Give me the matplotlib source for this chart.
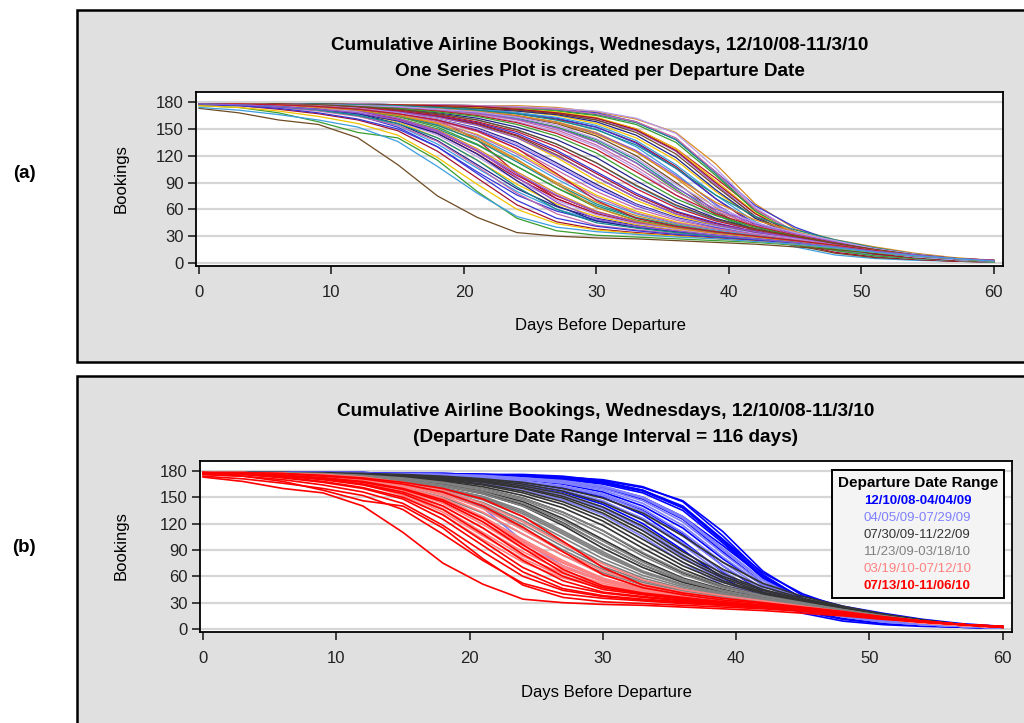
import numpy as np
import matplotlib
matplotlib.use("Agg")
import matplotlib.pyplot as plt
from matplotlib.patches import Rectangle
from matplotlib.lines import Line2D

plt.rcParams['font.family'] = ['Liberation Sans', 'DejaVu Sans']

# days before departure (sampled every 3 days)
days = [0, 3, 6, 9, 12, 15, 18, 21, 24, 27, 30, 33, 36, 39, 42, 45, 48, 51, 54, 57, 60]

# cumulative bookings per departure date, grouped by departure date range
range1 = [  # 12/10/08-04/04/09
    [178, 178, 178, 178, 178, 177, 177, 176, 176, 174, 169, 161, 146, 111, 66, 38, 26, 18, 11, 6, 3],
    [178, 178, 178, 178, 178, 177, 176, 175, 174, 172, 168, 158, 138, 102, 64, 40, 24, 14, 8, 4, 2],
    [178, 178, 178, 178, 177, 177, 176, 174, 172, 168, 162, 150, 128, 95, 60, 35, 20, 12, 7, 4, 2],
    [178, 178, 178, 178, 178, 177, 177, 176, 174, 171, 166, 157, 138, 100, 58, 32, 20, 12, 8, 4, 2],
    [178, 178, 178, 177, 177, 176, 175, 173, 170, 165, 156, 140, 115, 80, 50, 30, 18, 10, 6, 3, 1],
    [178, 178, 178, 178, 177, 176, 175, 174, 171, 167, 160, 148, 125, 88, 52, 28, 14, 8, 5, 3, 1],
    [178, 178, 178, 177, 176, 175, 173, 171, 167, 160, 150, 130, 100, 65, 35, 18, 9, 5, 3, 2, 1],
    [178, 178, 178, 178, 178, 177, 177, 176, 175, 173, 170, 162, 145, 106, 62, 34, 20, 12, 7, 4, 2],
    [178, 178, 177, 177, 176, 174, 172, 169, 164, 156, 142, 120, 90, 58, 35, 20, 11, 6, 4, 2, 1],
    [178, 178, 178, 178, 177, 177, 176, 175, 173, 170, 165, 155, 135, 98, 58, 32, 18, 10, 6, 3, 1],
    [178, 178, 178, 177, 176, 175, 174, 171, 167, 161, 152, 135, 108, 72, 42, 22, 12, 7, 4, 2, 1],
    [178, 178, 178, 178, 178, 177, 177, 176, 174, 172, 167, 158, 140, 102, 60, 34, 21, 13, 8, 4, 2],
]
range2 = [  # 04/05/09-07/29/09
    [178, 178, 178, 178, 177, 176, 175, 173, 170, 166, 158, 143, 118, 82, 50, 30, 18, 11, 6, 3, 2],
    [178, 178, 178, 177, 176, 175, 173, 170, 165, 158, 146, 125, 95, 62, 38, 24, 15, 9, 5, 3, 1],
    [178, 178, 178, 177, 177, 176, 174, 172, 168, 162, 152, 134, 106, 72, 44, 27, 16, 9, 5, 3, 2],
    [178, 178, 177, 176, 174, 170, 160, 138, 100, 72, 55, 44, 36, 30, 25, 20, 15, 10, 6, 3, 1],
    [178, 178, 178, 177, 176, 174, 172, 168, 162, 152, 138, 115, 85, 56, 36, 23, 14, 8, 5, 3, 1],
    [178, 178, 178, 178, 177, 177, 176, 174, 172, 169, 163, 150, 128, 92, 56, 33, 19, 11, 6, 3, 2],
    [178, 178, 177, 177, 176, 174, 172, 169, 164, 157, 145, 126, 98, 66, 40, 25, 15, 9, 5, 3, 1],
    [178, 178, 178, 177, 177, 176, 174, 172, 168, 163, 154, 137, 110, 76, 46, 28, 16, 9, 5, 3, 2],
    [178, 178, 177, 176, 175, 173, 170, 166, 158, 147, 130, 105, 76, 50, 33, 22, 14, 8, 5, 3, 1],
    [178, 178, 178, 178, 177, 176, 175, 173, 171, 167, 160, 146, 122, 86, 52, 31, 18, 10, 6, 3, 2],
    [178, 178, 177, 177, 176, 174, 171, 167, 161, 152, 136, 112, 82, 54, 35, 23, 14, 8, 5, 3, 1],
    [178, 178, 178, 178, 177, 177, 176, 175, 172, 168, 162, 149, 126, 90, 55, 32, 18, 10, 6, 3, 2],
]
range3 = [  # 07/30/09-11/22/09
    [178, 178, 178, 177, 176, 174, 171, 167, 160, 149, 132, 108, 80, 58, 42, 32, 24, 16, 10, 5, 2],
    [178, 178, 177, 176, 175, 172, 168, 162, 152, 138, 118, 92, 68, 50, 38, 29, 21, 14, 9, 5, 2],
    [178, 178, 178, 177, 177, 175, 173, 170, 165, 157, 144, 124, 96, 68, 48, 35, 25, 17, 10, 5, 2],
    [178, 178, 177, 176, 174, 170, 165, 157, 145, 126, 102, 78, 58, 45, 35, 27, 20, 13, 8, 4, 2],
    [178, 178, 178, 177, 176, 173, 170, 165, 157, 145, 127, 102, 76, 55, 41, 31, 23, 15, 9, 5, 2],
    [178, 178, 178, 178, 177, 176, 174, 171, 167, 160, 149, 132, 106, 76, 52, 37, 26, 17, 10, 5, 2],
    [178, 178, 177, 175, 173, 169, 163, 154, 140, 118, 92, 70, 53, 42, 33, 26, 19, 13, 8, 4, 2],
    [178, 178, 178, 177, 176, 174, 172, 168, 161, 151, 135, 112, 84, 60, 44, 33, 24, 16, 9, 5, 2],
    [178, 178, 177, 176, 174, 171, 167, 160, 149, 133, 112, 86, 64, 48, 37, 28, 21, 14, 8, 4, 2],
    [178, 178, 178, 177, 176, 175, 172, 169, 163, 154, 139, 117, 88, 63, 45, 34, 25, 16, 10, 5, 2],
    [178, 177, 177, 175, 173, 169, 164, 155, 142, 121, 96, 73, 55, 43, 34, 26, 19, 13, 8, 4, 2],
    [178, 178, 177, 177, 175, 173, 169, 164, 155, 142, 123, 97, 72, 53, 40, 30, 22, 15, 9, 5, 2],
]
range4 = [  # 11/23/09-03/18/10
    [178, 178, 177, 176, 174, 170, 164, 156, 143, 124, 100, 76, 57, 44, 35, 28, 21, 14, 9, 5, 2],
    [178, 178, 177, 175, 172, 167, 159, 147, 128, 104, 80, 61, 48, 39, 32, 26, 20, 13, 8, 4, 2],
    [178, 178, 177, 176, 173, 168, 161, 151, 135, 112, 88, 66, 51, 41, 33, 27, 20, 13, 8, 4, 2],
    [178, 177, 176, 174, 170, 164, 154, 138, 115, 90, 68, 53, 43, 36, 30, 25, 19, 13, 8, 4, 2],
    [178, 178, 177, 175, 172, 167, 160, 149, 131, 108, 84, 64, 50, 40, 33, 27, 20, 13, 8, 4, 2],
    [178, 178, 178, 176, 174, 171, 166, 158, 147, 130, 108, 83, 62, 47, 37, 29, 22, 15, 9, 5, 2],
    [178, 177, 176, 173, 169, 162, 150, 132, 108, 84, 64, 50, 41, 35, 29, 24, 18, 12, 7, 4, 2],
    [178, 178, 177, 175, 171, 166, 157, 144, 124, 99, 76, 58, 46, 38, 31, 26, 19, 13, 8, 4, 2],
    [178, 178, 177, 176, 173, 169, 163, 154, 140, 120, 96, 73, 55, 43, 35, 28, 21, 14, 8, 4, 2],
    [178, 177, 176, 174, 170, 165, 155, 141, 119, 94, 71, 55, 44, 37, 31, 25, 19, 13, 8, 4, 2],
    [178, 178, 177, 175, 173, 168, 161, 150, 133, 110, 86, 65, 50, 41, 33, 27, 20, 13, 8, 4, 2],
    [178, 178, 178, 177, 175, 172, 167, 160, 149, 133, 112, 87, 65, 49, 38, 30, 22, 15, 9, 5, 2],
]
range5 = [  # 03/19/10-07/12/10
    [178, 178, 177, 175, 171, 164, 152, 133, 108, 84, 62, 48, 40, 34, 29, 24, 19, 13, 8, 4, 2],
    [178, 177, 176, 174, 169, 160, 145, 122, 95, 72, 55, 45, 38, 33, 28, 24, 18, 12, 7, 4, 2],
    [178, 178, 177, 176, 173, 167, 158, 143, 122, 97, 74, 56, 45, 38, 32, 26, 20, 14, 8, 4, 2],
    [178, 177, 176, 173, 167, 156, 137, 110, 83, 63, 50, 42, 36, 31, 27, 23, 18, 12, 7, 4, 2],
    [178, 178, 177, 175, 170, 162, 149, 128, 102, 78, 58, 46, 39, 33, 28, 24, 18, 12, 7, 4, 2],
    [178, 177, 175, 172, 165, 152, 130, 102, 76, 58, 47, 40, 35, 31, 27, 22, 17, 12, 7, 4, 2],
    [178, 178, 176, 174, 170, 161, 147, 125, 98, 75, 57, 46, 39, 33, 28, 24, 18, 12, 7, 4, 2],
    [178, 178, 177, 175, 172, 165, 154, 137, 113, 88, 66, 51, 42, 35, 30, 25, 19, 13, 8, 4, 2],
    [178, 177, 176, 173, 168, 158, 140, 115, 88, 66, 52, 43, 37, 32, 27, 23, 18, 12, 7, 4, 2],
    [178, 178, 177, 174, 170, 162, 148, 126, 100, 76, 57, 46, 39, 33, 28, 24, 18, 12, 7, 4, 2],
    [178, 177, 175, 172, 166, 154, 133, 106, 80, 60, 48, 41, 35, 31, 27, 22, 17, 12, 7, 4, 2],
    [178, 178, 176, 174, 169, 159, 143, 119, 92, 70, 54, 44, 38, 32, 28, 23, 18, 12, 7, 4, 2],
]
range6 = [  # 07/13/10-11/06/10
    [173, 168, 160, 155, 140, 110, 75, 51, 34, 30, 28, 27, 25, 23, 21, 18, 15, 11, 8, 5, 2],
    [176, 174, 168, 158, 146, 140, 115, 80, 50, 36, 31, 29, 27, 25, 23, 20, 16, 12, 8, 5, 2],
    [178, 176, 172, 167, 160, 148, 125, 95, 65, 46, 38, 34, 31, 28, 25, 21, 17, 13, 8, 5, 2],
    [178, 177, 174, 170, 164, 154, 136, 108, 78, 55, 42, 37, 33, 30, 27, 23, 18, 13, 9, 5, 3],
    [178, 177, 175, 172, 167, 159, 145, 122, 92, 64, 47, 40, 35, 31, 27, 23, 18, 13, 9, 5, 3],
    [178, 178, 177, 174, 171, 165, 156, 140, 116, 88, 62, 47, 39, 33, 29, 24, 19, 14, 9, 5, 3],
    [177, 176, 173, 168, 161, 150, 130, 100, 70, 50, 41, 36, 32, 29, 26, 22, 17, 13, 8, 5, 2],
    [178, 178, 177, 175, 172, 167, 160, 148, 128, 100, 70, 50, 41, 35, 30, 25, 20, 14, 9, 5, 3],
    [178, 177, 175, 171, 165, 156, 140, 115, 85, 60, 45, 39, 34, 30, 27, 23, 18, 13, 9, 5, 2],
    [176, 174, 170, 164, 156, 143, 118, 88, 60, 44, 37, 33, 30, 27, 24, 21, 17, 12, 8, 5, 2],
    [178, 177, 175, 172, 168, 160, 147, 126, 96, 68, 49, 41, 36, 31, 27, 23, 18, 13, 9, 5, 3],
    [174, 171, 166, 160, 152, 136, 108, 78, 52, 40, 35, 32, 29, 27, 24, 21, 17, 12, 8, 5, 2],
]

groups = [range1, range2, range3, range4, range5, range6]
group_labels = ["12/10/08-04/04/09", "04/05/09-07/29/09", "07/30/09-11/22/09",
                "11/23/09-03/18/10", "03/19/10-07/12/10", "07/13/10-11/06/10"]
group_colors = ["#0000ff", "#8080ff", "#333333", "#808080", "#ff8080", "#ff0000"]

# default cycle of the per-date plot
cycle_colors = ["#d98a1f", "#3636d8", "#c0182e", "#198a8a", "#f2c200", "#9457d6",
                "#3c9ee0", "#b99be8", "#6e4a22", "#3a9e2e", "#a5122e", "#c46aa8",
                "#22228a"]

W, H = 1024, 723
fig = plt.figure(figsize=(W / 100, H / 100), dpi=100)
fig.patch.set_facecolor("white")

# gray panels
fig.patches.append(Rectangle((77 / W, 1 - 362 / H), 1, 352 / H, transform=fig.transFigure,
                             facecolor="#e0e0e0", edgecolor="black", lw=1.8, zorder=-1))
fig.patches.append(Rectangle((77 / W, -0.05), 1, 0.05 + 1 - 376 / H, transform=fig.transFigure,
                             facecolor="#e0e0e0", edgecolor="black", lw=1.8, zorder=-1))

ax1 = fig.add_axes([196 / W, 1 - 266 / H, 807 / W, 174 / H])
ax2 = fig.add_axes([200 / W, 1 - 632 / H, 812 / W, 171 / H])


def style(ax):
    ax.set_facecolor("white")
    ax.set_xlim(-0.23, 60.7)
    ax.set_ylim(-3.4, 191.3)
    ax.set_xticks(range(0, 61, 10))
    ax.set_yticks(range(0, 181, 30))
    ax.grid(axis="y", color="#d6d6d6", lw=1.6)
    ax.set_axisbelow(True)
    for s in ax.spines.values():
        s.set_linewidth(1.3)
    ax.tick_params(length=6, width=1.2, labelsize=12, color="#222222", labelcolor="#222222")
    ax.tick_params(axis="x", pad=8)
    ax.tick_params(axis="y", pad=3)


# (a) one series per departure date
k = 0
for g in groups:
    for curve in g:
        ax1.plot(days, curve, color=cycle_colors[k % len(cycle_colors)], lw=0.9)
        k += 1
style(ax1)

# (b) coloured by departure date range
for g, c in zip(groups, group_colors):
    for curve in g:
        ax2.plot(days, curve, color=c, lw=1.2)
style(ax2)

handles = [Line2D([], [], linestyle="none") for _ in group_labels]
leg = ax2.legend(handles, group_labels, title="Departure Date Range",
                 loc="upper right", bbox_to_anchor=(0.990, 0.947), borderaxespad=0,
                 handlelength=0, handletextpad=0, labelspacing=0.36, fontsize=9.5,
                 title_fontproperties={"weight": "bold", "size": 11},
                 fancybox=False, framealpha=1, edgecolor="black", facecolor="#f4f4f4",
                 borderpad=0.45)
leg.get_frame().set_linewidth(1.4)
for t, c in zip(leg.get_texts(), group_colors):
    t.set_color(c)
    t.set_fontweight("bold" if c in ("#0000ff", "#ff0000") else "normal")
    t.set_ha("center")

# titles and labels
fig.text(600 / W, 1 - 45 / H, "Cumulative Airline Bookings, Wednesdays, 12/10/08-11/3/10",
         ha="center", va="center", fontsize=13.7, fontweight="bold")
fig.text(600 / W, 1 - 72 / H, "One Series Plot is created per Departure Date",
         ha="center", va="center", fontsize=13.7, fontweight="bold")
fig.text(606 / W, 1 - 411 / H, "Cumulative Airline Bookings, Wednesdays, 12/10/08-11/3/10",
         ha="center", va="center", fontsize=13.7, fontweight="bold")
fig.text(606 / W, 1 - 438 / H, "(Departure Date Range Interval = 116 days)",
         ha="center", va="center", fontsize=13.7, fontweight="bold")

fig.text(121 / W, 1 - 179 / H, "Bookings", rotation=90, ha="center", va="center", fontsize=12)
fig.text(121 / W, 1 - 546 / H, "Bookings", rotation=90, ha="center", va="center", fontsize=12)
fig.text(600 / W, 1 - 326 / H, "Days Before Departure", ha="center", va="center", fontsize=12)
fig.text(606 / W, 1 - 693 / H, "Days Before Departure", ha="center", va="center", fontsize=12)

fig.text(24 / W, 1 - 174 / H, "(a)", ha="center", va="center", fontsize=13.5, fontweight="bold")
fig.text(24 / W, 1 - 547 / H, "(b)", ha="center", va="center", fontsize=13.5, fontweight="bold")

fig.savefig("out.png", dpi=100)
